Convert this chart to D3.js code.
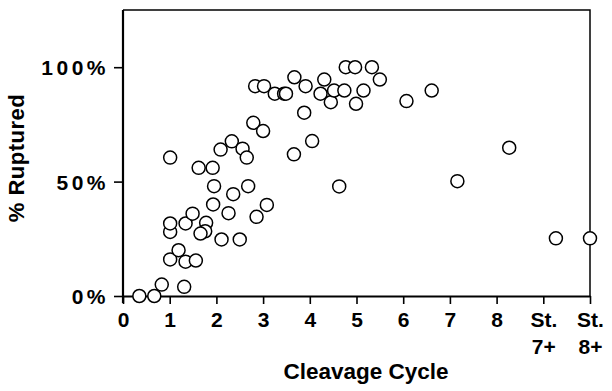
<!DOCTYPE html>
<html>
<head>
<meta charset="utf-8">
<script src="https://cdn.jsdelivr.net/npm/d3@7"></script>
<style>
  body { margin: 0; background: #fff; }
  svg { display: block; }
  text { font-family: "Liberation Sans", Arial, sans-serif; font-weight: bold; fill: #000; }
</style>
</head>
<body>
<svg id="chart" width="612" height="391"></svg>
<script>
// cleavage cycle (9 = St. 7+, 10 = St. 8+)
var cycle = [0.35, 0.67, 0.83, 1.31, 1.01, 1.19, 1.34, 1.56, 1.01, 1.01,
    1.34, 1.49, 1.78, 1.76, 1.66, 1.93, 2.11, 2.26, 2.36, 2.50,
    2.68, 2.86, 3.08, 1.95, 1.01, 1.62, 1.92, 2.09, 2.33, 2.56,
    2.65, 2.79, 3.00, 2.83, 3.02, 3.25, 3.45, 3.49, 3.67, 3.91,
    3.88, 3.66, 4.05, 4.63, 4.31, 4.23, 4.45, 4.52, 4.74, 4.77,
    4.97, 4.99, 5.15, 5.33, 5.50, 6.07, 6.61, 7.16, 8.27, 9.27, 10.0];
// percent ruptured
var ruptured = [0, 0, 5, 4, 16, 20, 15, 15.5, 28, 31.7,
    31.7, 36, 32, 28.3, 27.3, 40, 24.7, 36.2, 44.5, 24.7,
    48, 34.6, 39.8, 48, 60.5, 56, 56, 64, 67.6, 64.4,
    60.5, 75.7, 72.1, 91.7, 91.7, 88.4, 88.4, 88.4, 95.6, 91.7,
    80.1, 61.9, 67.7, 47.9, 94.6, 88.4, 84.7, 89.8, 89.8, 100,
    100, 84, 89.8, 100, 94.6, 85.2, 89.8, 50.2, 64.8, 25.2, 25.2];

var xTicks = [0, 1, 2, 3, 4, 5, 6, 7, 8, 9, 10];
var xTickLabels = ["0", "1", "2", "3", "4", "5", "6", "7", "8", "St.|7+", "St.|8+"];
var yTicks = [0, 50, 100];
var yTickLabels = ["0%", "50%", "100%"];

var svg = d3.select("#chart");
var mLeft = 123, mRight = 590, mTop = 10, mBottom = 296;

var x = d3.scaleLinear().domain([0, 10]).range([mLeft, mRight]);
var y = d3.scaleLinear().domain([0, 125]).range([mBottom, mTop]);

// frame (top + right)
svg.append("path")
    .attr("d", "M" + mLeft + "," + mTop + "H" + mRight + "V" + mBottom)
    .attr("fill", "none").attr("stroke", "#000").attr("stroke-width", 1.5);

var xAxis = svg.append("g")
    .attr("transform", "translate(0," + mBottom + ")")
    .call(d3.axisBottom(x).tickValues(xTicks).tickSize(8).tickSizeOuter(0).tickFormat(function (d, i) { return xTickLabels[i]; }));
xAxis.select(".domain").attr("stroke-width", 2.2);
xAxis.selectAll(".tick line").attr("stroke-width", 1.6);
xAxis.selectAll(".tick text").remove();
xAxis.selectAll(".tick").each(function (d, i) {
    var parts = xTickLabels[i].split("|");
    var t = d3.select(this).append("text")
        .attr("text-anchor", "middle")
        .style("font-size", "21px");
    parts.forEach(function (p, k) {
        t.append("tspan").attr("x", 0).attr("y", 31 + k * 27).text(p);
    });
});

var yAxis = svg.append("g")
    .attr("transform", "translate(" + mLeft + ",0)")
    .call(d3.axisLeft(y).tickValues(yTicks).tickSize(9).tickSizeOuter(0).tickFormat(function (d, i) { return yTickLabels[i]; }));
yAxis.select(".domain").attr("stroke-width", 2.2).attr("d", "M0," + mTop + "V" + (mBottom + 7));
yAxis.selectAll(".tick line").attr("stroke-width", 1.6);
yAxis.selectAll(".tick text")
    .attr("x", -14)
    .attr("dy", "0.36em")
    .style("font-size", "21px")
    .style("letter-spacing", "3.5px")
    .style("font-family", "'Liberation Sans', Arial, sans-serif");

svg.append("g").selectAll("circle")
    .data(cycle)
    .join("circle")
    .attr("cx", function (d) { return x(d); })
    .attr("cy", function (d, i) { return y(ruptured[i]); })
    .attr("r", 6.5)
    .attr("fill", "#fff")
    .attr("stroke", "#000")
    .attr("stroke-width", 1.5);

svg.append("text")
    .attr("x", 366)
    .attr("y", 379)
    .attr("text-anchor", "middle")
    .style("font-size", "22.5px")
    .text("Cleavage Cycle");

svg.append("text")
    .attr("transform", "translate(24,158) rotate(-90)")
    .attr("text-anchor", "middle")
    .style("font-size", "22px")
    .style("letter-spacing", "0.5px")
    .text("% Ruptured");
</script>
</body>
</html>
